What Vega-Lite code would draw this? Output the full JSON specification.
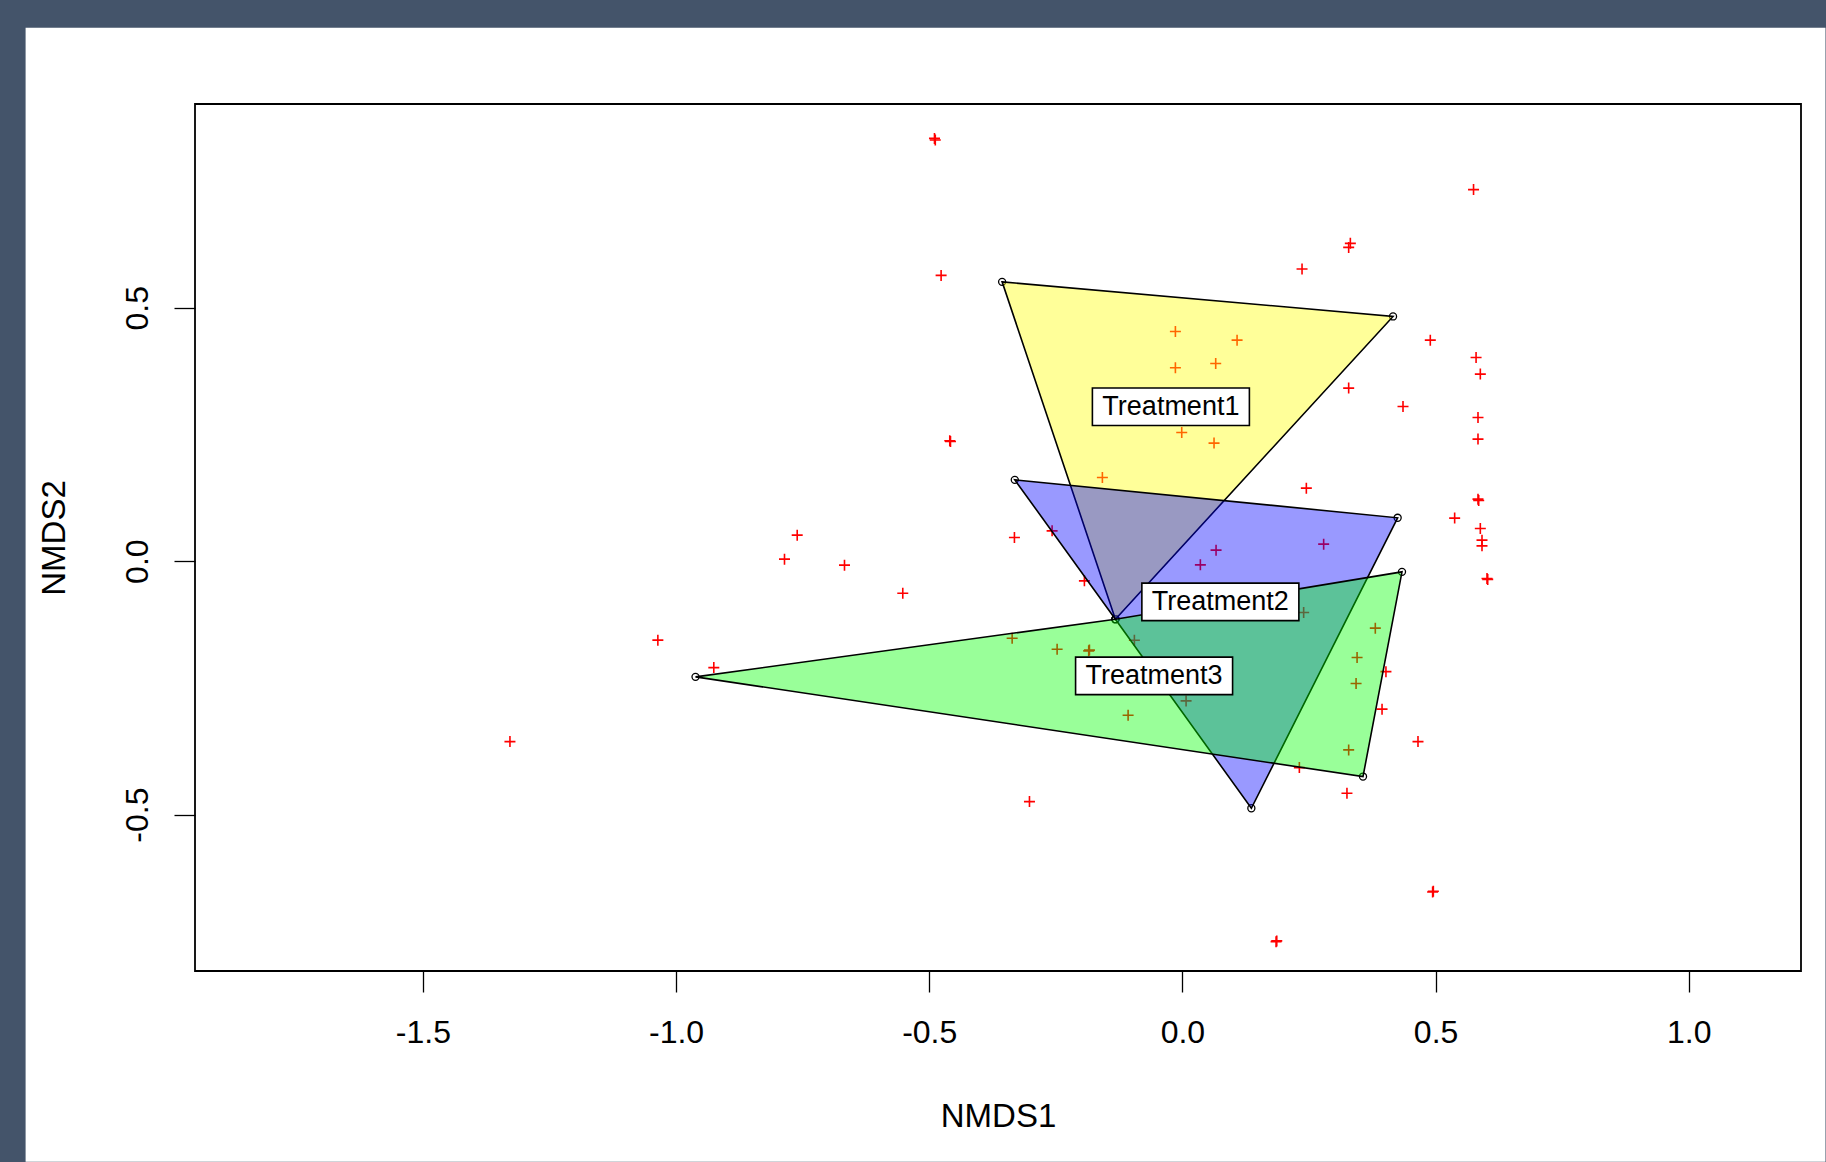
{
  "$schema": "https://vega.github.io/schema/vega-lite/v6.json",
  "width": 1606,
  "height": 867,
  "autosize": {"type": "pad"},
  "padding": {"left": 25, "top": 27, "right": 0, "bottom": 0},
  "background": "#44546A",
  "config": {
    "view": {"stroke": null, "fill": null},
    "font": "Liberation Sans",
    "axis": {
      "domain": false,
      "grid": false,
      "tickColor": "#000000",
      "tickSize": 21,
      "tickWidth": 1.3,
      "labelColor": "#000000",
      "titleColor": "#000000",
      "labelFont": "Liberation Sans",
      "titleFont": "Liberation Sans",
      "titleFontWeight": "normal",
      "labelFontSize": 32,
      "titleFontSize": 33
    }
  },
  "datasets": {
    "one": [{"k": 1}],
    "pts": [
      {"x": -0.4896, "y": 0.834}, {"x": -0.4880, "y": 0.831},
      {"x": -0.4765, "y": 0.5637},
      {"x": 0.575, "y": 0.733},
      {"x": 0.3317, "y": 0.627}, {"x": 0.3284, "y": 0.619},
      {"x": 0.2363, "y": 0.5763},
      {"x": -0.0138, "y": 0.4532}, {"x": 0.108, "y": 0.436},
      {"x": -0.0138, "y": 0.3815}, {"x": 0.0658, "y": 0.390},
      {"x": 0.4896, "y": 0.436}, {"x": 0.58, "y": 0.4018},
      {"x": 0.5884, "y": 0.369}, {"x": 0.3284, "y": 0.3414},
      {"x": 0.4357, "y": 0.305}, {"x": 0.5838, "y": 0.2834},
      {"x": 0.5838, "y": 0.2408}, {"x": -0.0013, "y": 0.2538},
      {"x": 0.0625, "y": 0.2329}, {"x": -0.158, "y": 0.165},
      {"x": 0.2448, "y": 0.144},
      {"x": 0.5838, "y": 0.1223}, {"x": 0.5852, "y": 0.1195},
      {"x": 0.5377, "y": 0.0849}, {"x": 0.5884, "y": 0.0643},
      {"x": 0.5917, "y": 0.0414}, {"x": 0.5917, "y": 0.0302},
      {"x": 0.6016, "y": -0.0343}, {"x": 0.6030, "y": -0.0360},
      {"x": -0.3317, "y": 0.0466}, {"x": -0.2573, "y": 0.0598},
      {"x": 0.0665, "y": 0.0217}, {"x": 0.279, "y": 0.0335},
      {"x": 0.0355, "y": -0.0073}, {"x": -0.1935, "y": -0.0389},
      {"x": -0.3362, "y": -0.152}, {"x": -0.2474, "y": -0.1737},
      {"x": -0.185, "y": -0.177}, {"x": -0.1836, "y": -0.1755},
      {"x": -0.0948, "y": -0.156}, {"x": 0.2395, "y": -0.1014},
      {"x": 0.381, "y": -0.1322}, {"x": 0.345, "y": -0.19},
      {"x": 0.402, "y": -0.218},
      {"x": -0.4594, "y": 0.2374}, {"x": -0.4580, "y": 0.2360},
      {"x": -0.7607, "y": 0.0513}, {"x": -0.7858, "y": 0.0039},
      {"x": -0.6673, "y": -0.0079}, {"x": -0.5522, "y": -0.0632},
      {"x": -1.0359, "y": -0.1559}, {"x": -0.9254, "y": -0.21},
      {"x": -1.328, "y": -0.356},
      {"x": 0.0073, "y": -0.2757}, {"x": -0.1072, "y": -0.304},
      {"x": 0.343, "y": -0.2415}, {"x": 0.3943, "y": -0.292},
      {"x": 0.4653, "y": -0.356}, {"x": 0.3284, "y": -0.3724},
      {"x": 0.231, "y": -0.4073}, {"x": 0.325, "y": -0.458},
      {"x": -0.302, "y": -0.4744},
      {"x": 0.4942, "y": -0.6527}, {"x": 0.4956, "y": -0.6512},
      {"x": 0.185, "y": -0.7507}, {"x": 0.1864, "y": -0.7492}
    ],
    "hull": [
      {"g": "Treatment1", "o": 1, "x": -0.356, "y": 0.551},
      {"g": "Treatment1", "o": 2, "x": 0.416, "y": 0.4828},
      {"g": "Treatment1", "o": 3, "x": -0.1323, "y": -0.1145},
      {"g": "Treatment2", "o": 1, "x": -0.331, "y": 0.1604},
      {"g": "Treatment2", "o": 2, "x": 0.4251, "y": 0.0855},
      {"g": "Treatment2", "o": 3, "x": 0.1362, "y": -0.4875},
      {"g": "Treatment2", "o": 4, "x": -0.1323, "y": -0.1145},
      {"g": "Treatment3", "o": 1, "x": -0.9615, "y": -0.2283},
      {"g": "Treatment3", "o": 2, "x": -0.1323, "y": -0.1145},
      {"g": "Treatment3", "o": 3, "x": 0.4337, "y": -0.0211},
      {"g": "Treatment3", "o": 4, "x": 0.3567, "y": -0.425}
    ],
    "labels": [
      {"g": "Treatment1", "x": -0.0227, "y": 0.3045},
      {"g": "Treatment2", "x": 0.075, "y": -0.0803},
      {"g": "Treatment3", "x": -0.0559, "y": -0.2264}
    ]
  },
  "layer": [
    {
      "data": {"name": "one"},
      "mark": {"type": "rect", "fill": "#FFFFFF", "clip": false},
      "encoding": {
        "x": {"datum": -2.28455, "type": "quantitative", "scale": {"domain": [-1.95, 1.2217], "nice": false, "zero": false},
          "axis": {
            "title": "NMDS1",
            "zindex": 2,
            "values": [-1.5, -1, -0.5, 0, 0.5, 1],
            "labelExpr": "replace(format(datum.value, '.1f'), '\u2212', '-')",
            "labelBaseline": "alphabetic",
            "labelPadding": 50,
            "labelFlush": false,
            "labelOverlap": false,
            "titleBaseline": "alphabetic",
            "titleY": 155
          }},
        "x2": {"datum": 1.27},
        "y": {"datum": 1.05243, "type": "quantitative", "scale": {"domain": [-0.8086, 0.9019], "nice": false, "zero": false},
          "axis": {
            "title": "NMDS2",
            "zindex": 2,
            "values": [-0.5, 0, 0.5],
            "labelExpr": "replace(format(datum.value, '.1f'), '\u2212', '-')",
            "labelAngle": -90,
            "labelAlign": "center",
            "labelBaseline": "alphabetic",
            "labelPadding": 27,
            "labelFlush": false,
            "labelOverlap": false,
            "titleAngle": -90,
            "titleAlign": "center",
            "titleBaseline": "alphabetic",
            "titleX": -130.6,
            "titleY": 433.5
          }},
        "y2": {"datum": -1.185}
      }
    },
    {
      "data": {"name": "pts"},
      "mark": {"type": "point", "shape": "M-1,0H1M0,-1V1", "filled": false, "stroke": "#FF0000", "strokeWidth": 1.6, "size": 121, "opacity": 1},
      "encoding": {
        "x": {"field": "x", "type": "quantitative", "title": "NMDS1"},
        "y": {"field": "y", "type": "quantitative", "title": "NMDS2"}
      }
    },
    {
      "data": {"name": "hull"},
      "mark": {"type": "point", "shape": "circle", "filled": false, "stroke": "#000000", "strokeWidth": 1.3, "size": 50, "opacity": 1},
      "encoding": {
        "x": {"field": "x", "type": "quantitative", "title": "NMDS1"},
        "y": {"field": "y", "type": "quantitative", "title": "NMDS2"}
      }
    },
    {
      "data": {"name": "hull"},
      "transform": [{"filter": "datum.g === 'Treatment1'"}],
      "mark": {"type": "line", "interpolate": "linear-closed", "fill": "#FFFF00", "fillOpacity": 0.4, "stroke": "#000000", "strokeWidth": 1.6},
      "encoding": {
        "x": {"field": "x", "type": "quantitative", "title": "NMDS1"},
        "y": {"field": "y", "type": "quantitative", "title": "NMDS2"},
        "order": {"field": "o", "type": "quantitative"}
      }
    },
    {
      "data": {"name": "hull"},
      "transform": [{"filter": "datum.g === 'Treatment2'"}],
      "mark": {"type": "line", "interpolate": "linear-closed", "fill": "#0000FF", "fillOpacity": 0.4, "stroke": "#000000", "strokeWidth": 1.6},
      "encoding": {
        "x": {"field": "x", "type": "quantitative", "title": "NMDS1"},
        "y": {"field": "y", "type": "quantitative", "title": "NMDS2"},
        "order": {"field": "o", "type": "quantitative"}
      }
    },
    {
      "data": {"name": "hull"},
      "transform": [{"filter": "datum.g === 'Treatment3'"}],
      "mark": {"type": "line", "interpolate": "linear-closed", "fill": "#00FF00", "fillOpacity": 0.4, "stroke": "#000000", "strokeWidth": 1.6},
      "encoding": {
        "x": {"field": "x", "type": "quantitative", "title": "NMDS1"},
        "y": {"field": "y", "type": "quantitative", "title": "NMDS2"},
        "order": {"field": "o", "type": "quantitative"}
      }
    },
    {
      "data": {"name": "labels"},
      "mark": {"type": "rect", "fill": "#FFFFFF", "stroke": "#000000", "strokeWidth": 1.6, "xOffset": -78.5, "x2Offset": 78.5, "yOffset": -18.75, "y2Offset": 18.75},
      "encoding": {
        "x": {"field": "x", "type": "quantitative", "title": "NMDS1"},
        "x2": {"field": "x"},
        "y": {"field": "y", "type": "quantitative", "title": "NMDS2"},
        "y2": {"field": "y"}
      }
    },
    {
      "data": {"name": "labels"},
      "mark": {"type": "text", "fontSize": 27, "font": "Liberation Sans", "color": "#000000", "align": "center", "baseline": "middle"},
      "encoding": {
        "x": {"field": "x", "type": "quantitative", "title": "NMDS1"},
        "y": {"field": "y", "type": "quantitative", "title": "NMDS2"},
        "text": {"field": "g"}
      }
    },
    {
      "data": {"name": "one"},
      "mark": {"type": "rect", "filled": false, "stroke": "#000000", "strokeWidth": 1.8, "clip": false},
      "encoding": {
        "x": {"datum": -1.95, "type": "quantitative"},
        "x2": {"datum": 1.2217},
        "y": {"datum": 0.9019, "type": "quantitative"},
        "y2": {"datum": -0.8086}
      }
    }
  ]
}
